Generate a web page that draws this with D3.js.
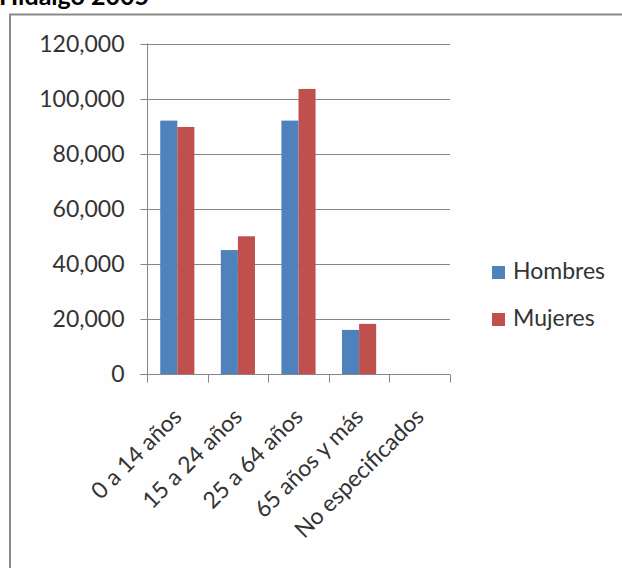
<!DOCTYPE html>
<html><head><meta charset="utf-8">
<script src="https://cdn.jsdelivr.net/npm/d3@7"></script>
<style>html,body{margin:0;padding:0;background:#fff;overflow:hidden}</style>
</head><body>
<svg id="c" width="622" height="568"></svg>
<script>
const categories = ["0 a 14 años","15 a 24 años","25 a 64 años","65 años y más","No especificados"];
const hombres = [92000, 45000, 92000, 16000, 0];
const mujeres = [89700, 50000, 103500, 18200, 0];
const seriesNames = ["Hombres","Mujeres"];
const colors = ["#4F81BD","#C0504D"];
const yTicks = [0,20000,40000,60000,80000,100000,120000];
const title = "Hidalgo 2005";

const svg = d3.select("#c");
const font = "Lato, 'Open Sans', sans-serif";

// frame
svg.append("rect").attr("x",10).attr("y",14.5).attr("width",700).attr("height",700)
  .attr("fill","#fefefe").attr("stroke","#8a8a8a").attr("stroke-width",2);

svg.append("text").attr("x",-1).attr("y",5).text(title)
  .attr("font-family",font).attr("font-weight","bold").attr("font-size",25).attr("fill","#000");

const x0 = d3.scaleBand().domain(categories).range([147,450]).paddingInner(0).paddingOuter(0);
const inner = 0.2183;
const x1 = d3.scaleBand().domain(seriesNames).range([x0.bandwidth()*inner, x0.bandwidth()*(1-inner)]);
const y = d3.scaleLinear().domain([0,120000]).range([374,43.5]);

// gridlines
svg.append("g").selectAll("line").data(yTicks.filter(d=>d>0)).join("line")
  .attr("x1",147).attr("x2",450).attr("y1",d=>Math.round(y(d))+0.5).attr("y2",d=>Math.round(y(d))+0.5)
  .attr("stroke","#868686").attr("stroke-width",1);

// y axis
const ya = svg.append("g").attr("transform","translate(147.5,0)")
  .call(d3.axisLeft(y).tickValues(yTicks).tickSize(7).tickPadding(16).tickFormat(d3.format(",")));
ya.select(".domain").attr("stroke","#868686").attr("d","M0,43.5V374");
ya.selectAll(".tick line").attr("stroke","#868686");
ya.selectAll("text").attr("font-family",font).attr("font-size",23).attr("fill","#333");
ya.selectAll(".tick").attr("transform",d=>`translate(0,${Math.round(y(d))+0.5})`);

// bars
const data = categories.map((c,i)=>({c, vals:[hombres[i],mujeres[i]]}));
svg.append("g").selectAll("g").data(data).join("g")
  .attr("transform",d=>`translate(${x0(d.c)},0)`)
  .selectAll("rect").data(d=>d.vals.map((v,j)=>({v,s:seriesNames[j],j})).filter(e=>e.v>0)).join("rect")
  .attr("x",e=>x1(e.s)).attr("width",x1.bandwidth())
  .attr("y",e=>y(e.v)).attr("height",e=>y(0)-y(e.v))
  .attr("fill",e=>colors[e.j]);

// x axis
const xa = svg.append("g").attr("transform","translate(0,374.5)");
xa.append("line").attr("x1",140).attr("x2",450).attr("stroke","#868686");
const tickPos = categories.map(c=>x0(c)).concat([x0.range()[1]]);
xa.selectAll("line.t").data(tickPos).join("line").attr("class","t")
  .attr("x1",d=>Math.round(d)+0.5).attr("x2",d=>Math.round(d)+0.5).attr("y1",0).attr("y2",8)
  .attr("stroke","#868686");
xa.selectAll("text").data(categories).join("text")
  .attr("transform",d=>`translate(${x0(d)+x0.bandwidth()/2},${38}) rotate(-45)`)
  .attr("text-anchor","end").attr("dy","0.35em")
  .attr("font-family",font).attr("font-size",23).attr("fill","#333").text(d=>d);

// legend
const lg = svg.append("g").selectAll("g").data(seriesNames).join("g")
  .attr("transform",(d,i)=>`translate(492,${266+i*47})`);
lg.append("rect").attr("width",13).attr("height",13).attr("fill",(d,i)=>colors[i]);
lg.append("text").attr("x",21).attr("y",13).text(d=>d)
  .attr("font-family",font).attr("font-size",23).attr("fill","#333");
</script>
</body></html>
